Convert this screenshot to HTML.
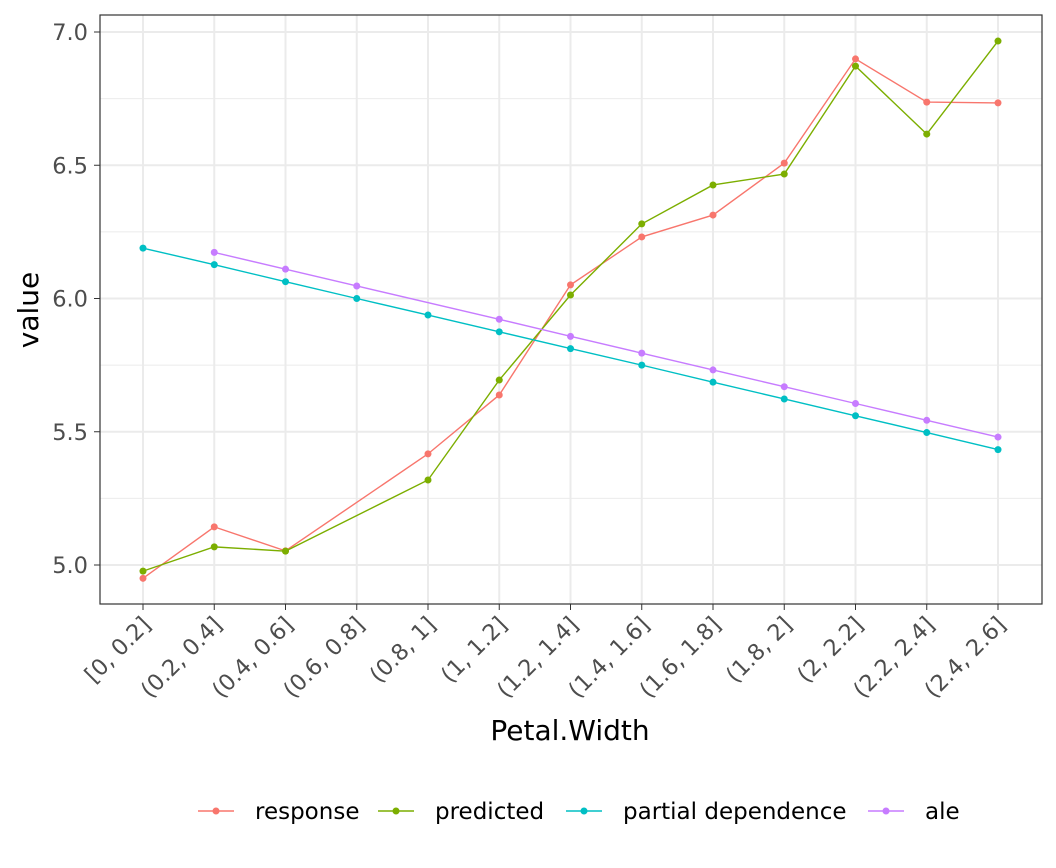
<!DOCTYPE html>
<html><head><meta charset="utf-8"><style>
body{margin:0;background:#fff;font-family:"DejaVu Sans","Liberation Sans",sans-serif}
</style></head><body>
<svg id="chart" width="1056" height="864" xmlns="http://www.w3.org/2000/svg" font-family="DejaVu Sans, Liberation Sans, sans-serif"></svg>
<script>
const categories=["[0, 0.2]","(0.2, 0.4]","(0.4, 0.6]","(0.6, 0.8]","(0.8, 1]","(1, 1.2]","(1.2, 1.4]","(1.4, 1.6]","(1.6, 1.8]","(1.8, 2]","(2, 2.2]","(2.2, 2.4]","(2.4, 2.6]"];
const response=[4.95,5.143,5.053,null,5.417,5.638,6.051,6.231,6.313,6.508,6.899,6.737,6.734];
const predicted=[4.977,5.068,5.052,null,5.319,5.694,6.013,6.280,6.426,6.467,6.872,6.617,6.966];
const partialDependence=[6.189,6.127,6.063,6.0,5.938,5.875,5.812,5.75,5.686,5.623,5.56,5.497,5.433];
const ale=[null,6.173,6.11,6.047,null,5.922,5.858,5.795,5.732,5.669,5.606,5.543,5.48];
const yTicks=[5.0,5.5,6.0,6.5,7.0];
const yMinor=[5.25,5.75,6.25,6.75];
const seriesNames=["response","predicted","partial dependence","ale"];
const colors=["#F8766D","#7CAE00","#00BFC4","#C77CFF"];
const NS="http://www.w3.org/2000/svg";
const svg=document.getElementById('chart');
const L=100,R=1042,T=15,B=604;
const x=i=>143+i*(998-143)/12;
const y=v=>565-(v-5)*266.5;
function mk(t,a,p){const e=document.createElementNS(NS,t);for(const k in a)e.setAttribute(k,a[k]);(p||svg).appendChild(e);return e;}
mk('rect',{x:L,y:T,width:R-L,height:B-T,fill:'#fff'});
yMinor.forEach(v=>{const l=mk('line',{x1:L,x2:R,y1:y(v),y2:y(v),stroke:'#ebebeb','stroke-width':1});

});
yTicks.forEach(v=>{const l=mk('line',{x1:L,x2:R,y1:y(v),y2:y(v),stroke:'#ebebeb','stroke-width':2});


const t=mk('text',{x:88,y:y(v)+8,'text-anchor':'end','font-size':22.5,fill:'#4d4d4d'});t.textContent=v.toFixed(1);


mk('line',{x1:94,x2:L,y1:y(v),y2:y(v),stroke:'#333','stroke-width':1});});
categories.forEach((c,i)=>{mk('line',{x1:x(i),x2:x(i),y1:T,y2:B,stroke:'#ebebeb','stroke-width':2});
mk('line',{x1:x(i),x2:x(i),y1:B,y2:B+6,stroke:'#333','stroke-width':1});
const t=mk('text',{x:x(i)+9,y:B+22,'text-anchor':'end','font-size':22.5,fill:'#4d4d4d',transform:`rotate(-45 ${x(i)+9} ${B+22})`});t.textContent=c;

});
[response,predicted,partialDependence,ale].forEach((s,k)=>{
const pts=s.map((v,i)=>v==null?null:[x(i),y(v)]).filter(p=>p);
const pl=mk('polyline',{points:pts.map(p=>p.join(',')).join(' '),fill:'none',stroke:colors[k],'stroke-width':1.4});


pts.forEach(p=>{const c=mk('circle',{cx:p[0],cy:p[1],r:3.5,fill:colors[k]});

});});
mk('rect',{x:L,y:T,width:R-L,height:B-T,fill:'none',stroke:'#333','stroke-width':1.2});
const xt=mk('text',{x:570,y:740,'text-anchor':'middle','font-size':28,fill:'#000'});xt.textContent='Petal.Width';


const yt=mk('text',{x:38,y:310,'text-anchor':'middle','font-size':28,fill:'#000',transform:'rotate(-90 38 310)'});yt.textContent='value';


const lx=[198,378,566,868];
seriesNames.forEach((n,k)=>{const g=mk('g',{});


mk('line',{x1:lx[k],x2:lx[k]+36,y1:811,y2:811,stroke:colors[k],'stroke-width':1.4},g);
mk('circle',{cx:lx[k]+18,cy:811,r:3.5,fill:colors[k]},g);
const t=mk('text',{x:lx[k]+57,y:819,'font-size':23,fill:'#000'},g);t.textContent=n;});
</script>
</body></html>
